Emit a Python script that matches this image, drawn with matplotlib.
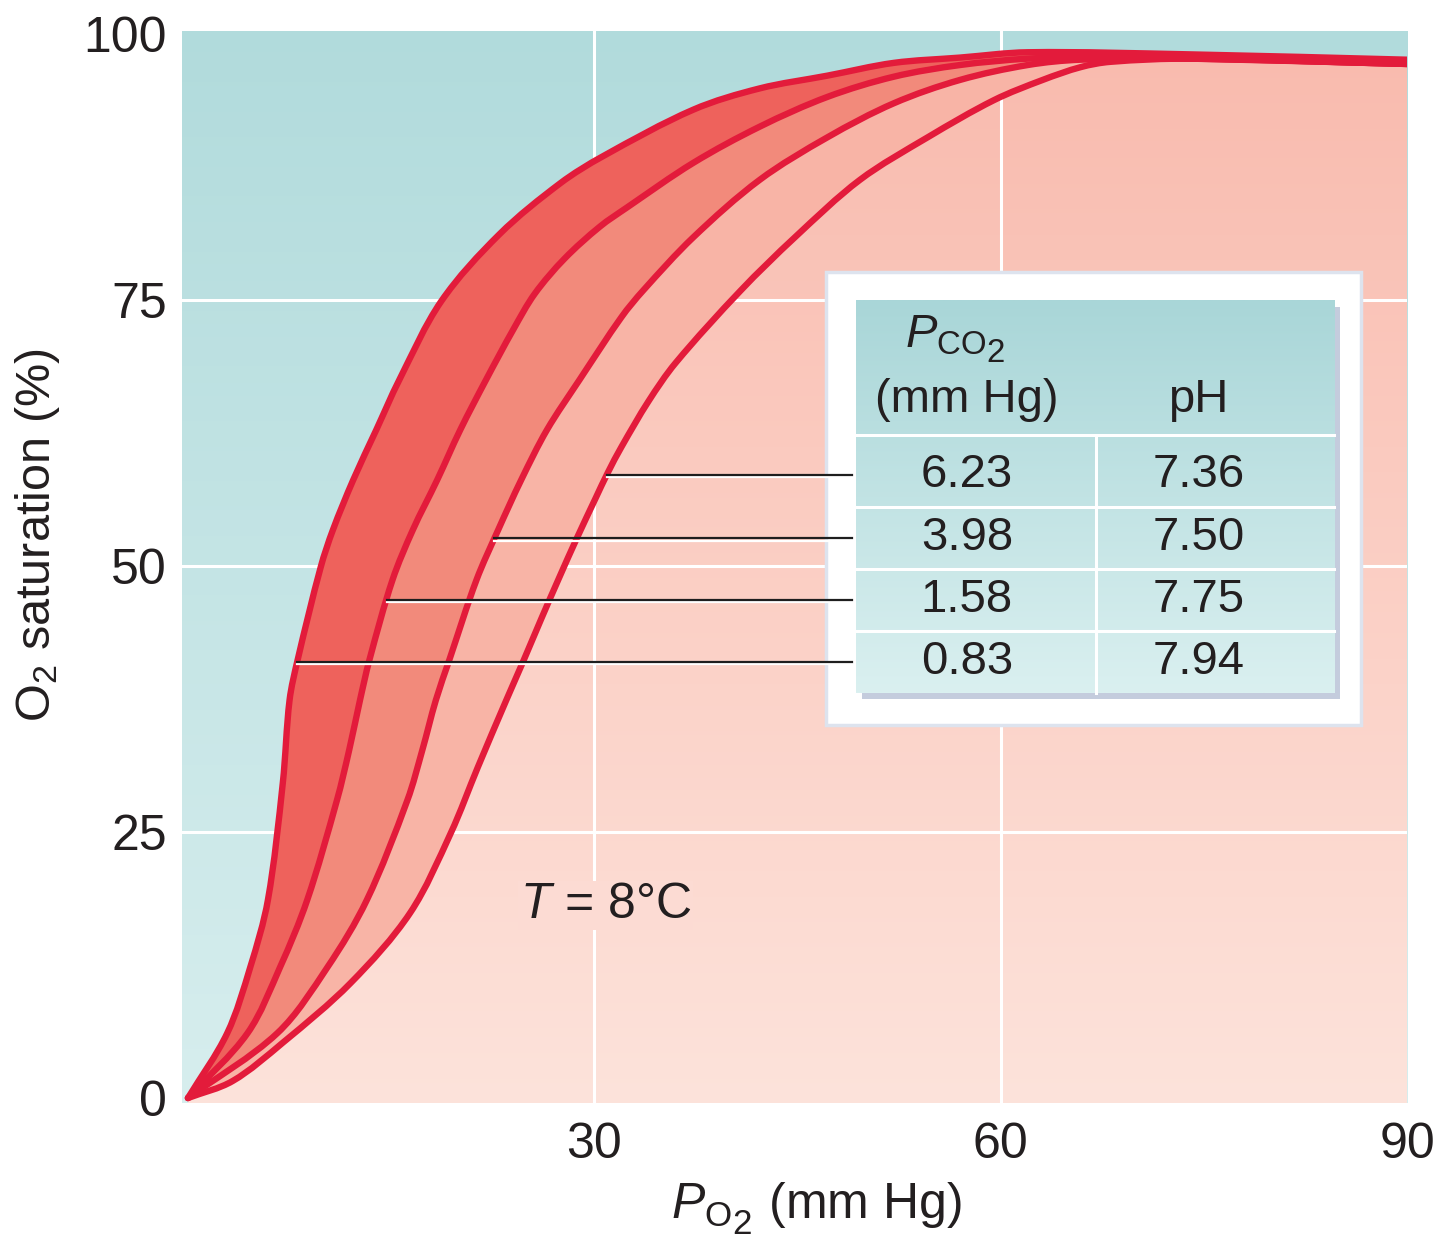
import numpy as np
import matplotlib
matplotlib.use('Agg')
import matplotlib.pyplot as plt
import matplotlib.patheffects as pe
import matplotlib._mathtext as mtext
from matplotlib.colors import LinearSegmentedColormap
from matplotlib.path import Path
from matplotlib.patches import PathPatch, Rectangle

plt.rcParams['font.family'] = ['Liberation Sans', 'DejaVu Sans']
plt.rcParams['mathtext.fontset'] = 'custom'
plt.rcParams['mathtext.rm'] = 'Liberation Sans'
plt.rcParams['mathtext.it'] = 'Liberation Sans:italic'
# nested subscripts (the "2" in P_O2) keep the size of the first subscript
mtext.NUM_SIZE_LEVELS = 2

# dissociation curves (PO2 in mm Hg, saturation in %)
po2_794 = [0.0, 2.9, 4.6, 5.9, 7.0, 7.5, 8.1, 9.8, 10.7, 12.2, 13.9, 15.6, 18.7, 23.0, 27.5, 30.6,
           37.3, 42.2, 47.2, 52.1, 57.0, 62.0, 74.0, 90.0]
sat_794 = [0.0, 6.1, 12.3, 18.6, 29.6, 37.4, 41.2, 49.9, 53.4, 58.1, 62.8, 67.5, 74.9, 81.2, 86.0, 88.5,
           92.9, 94.9, 96.1, 97.3, 97.8, 98.3, 98.1, 97.6]

po2_775 = [0.0, 4.4, 6.8, 8.8, 11.0, 11.9, 12.7, 13.4, 15.1, 16.6, 18.4, 20.1, 22.0, 24.0, 25.6,
           27.8, 30.4, 32.4, 37.3, 42.2, 47.2, 52.1, 57.0, 62.0, 65.9, 74.0, 90.0]
sat_775 = [0.0, 6.1, 12.3, 18.6, 28.0, 32.7, 37.4, 41.2, 48.7, 53.4, 58.1, 62.8, 67.5, 72.2, 75.6,
           78.9, 81.9, 83.7, 87.9, 91.3, 94.1, 96.0, 97.1, 97.7, 97.8, 97.7, 97.2]

po2_750 = [0.0, 6.6, 10.3, 13.2, 16.2, 17.3, 18.3, 19.3, 21.3, 22.9, 24.6, 26.5, 28.9, 32.0, 33.6,
           37.3, 42.2, 47.2, 52.1, 57.0, 62.0, 65.9, 74.0, 90.0]
sat_750 = [0.0, 6.1, 12.3, 18.6, 28.0, 32.7, 37.4, 41.2, 48.7, 53.4, 58.1, 62.8, 67.5, 73.4, 75.9,
           80.9, 86.3, 90.3, 93.5, 95.7, 97.1, 97.6, 97.7, 97.2]

po2_736 = [0.0, 3.3, 7.0, 12.0, 16.4, 19.4, 21.4, 23.5, 24.8, 26.1, 27.4, 28.7, 30.1, 31.0,
           32.0, 34.0, 36.0, 40.8, 44.8, 49.6, 54.6, 59.5, 63.1, 65.9, 68.1, 74.0, 90.0]
sat_736 = [0.0, 1.6, 5.2, 10.8, 17.4, 24.9, 31.1, 37.4, 41.2, 45.1, 48.9, 52.6, 56.4, 58.8,
           61.2, 65.5, 69.1, 75.9, 80.9, 86.3, 90.3, 93.8, 95.7, 96.9, 97.4, 97.7, 97.2]

# inset table, top row to bottom row
pco2_vals = ['6.23', '3.98', '1.58', '0.83']
ph_vals = ['7.36', '7.50', '7.75', '7.94']

x_ticks = [30, 60, 90]
y_ticks = [0, 25, 50, 75, 100]

red = '#e31b3b'
band_colors = ['#ee625c', '#f28a7b', '#f8b4a6']

curves = [(po2_794, sat_794), (po2_775, sat_775), (po2_750, sat_750), (po2_736, sat_736)]
# table rows belong to the curves from right to left
row_curves = [curves[3], curves[2], curves[1], curves[0]]
row_y = [58.6, 52.6, 46.8, 41.0]

SX, SY = 13.54, 10.64  # approx. pixels per data unit, only used for chord lengths


def smooth(x, y):
    # cubic bezier through the read points (chord-length catmull-rom tangents)
    p = np.c_[x, y].astype(float)
    d = np.hypot(np.diff(p[:, 0]) * SX, np.diff(p[:, 1]) * SY)
    t = np.r_[0, np.cumsum(d)]
    m = np.zeros_like(p)
    m[0] = (p[1] - p[0]) / (t[1] - t[0])
    m[-1] = (p[-1] - p[-2]) / (t[-1] - t[-2])
    m[1:-1] = (p[2:] - p[:-2]) / (t[2:] - t[:-2])[:, None]
    verts, codes = [p[0]], [Path.MOVETO]
    for i in range(len(p) - 1):
        h = t[i + 1] - t[i]
        verts += [p[i] + m[i] * h / 3, p[i + 1] - m[i + 1] * h / 3, p[i + 1]]
        codes += [Path.CURVE4] * 3
    return verts, codes


fig = plt.figure(figsize=(14.41, 12.54), dpi=100)
ax = fig.add_axes([0.1263, 0.1204, 0.8502, 0.8549])

grad = np.linspace(0, 1, 256).reshape(-1, 1)

# teal background
teal = LinearSegmentedColormap.from_list('teal', ['#d7eeee', '#b1dbdc'])
ax.imshow(grad, extent=[-1, 91, -1, 101], origin='lower', aspect='auto', cmap=teal, zorder=0)

# pink area under the right-most curve
pink = LinearSegmentedColormap.from_list('pink', ['#fde3db', '#f9baad'])
im = ax.imshow(grad, extent=[-1, 91, -1, 101], origin='lower', aspect='auto', cmap=pink, zorder=0.3)
v, c = smooth(*curves[3])
v = v + [(91, v[-1][1]), (91, -1), (0, -1), (0, 0)]
c = c + [Path.LINETO, Path.LINETO, Path.LINETO, Path.CLOSEPOLY]
im.set_clip_path(PathPatch(Path(v, c), transform=ax.transData))

# white grid
for gx in [30, 60]:
    ax.axvline(gx, color='white', lw=2.2, zorder=1.5)
for gy in [25, 50, 75]:
    ax.axhline(gy, color='white', lw=2.2, zorder=1.5)

# bands between neighbouring curves
for i in range(3):
    va, ca = smooth(*curves[i])
    xb, yb = curves[i + 1]
    vb, cb = smooth(xb[::-1], yb[::-1])
    cb = [Path.LINETO] + cb[1:]
    path = Path(va + vb + [(0, 0)], ca + cb + [Path.CLOSEPOLY])
    ax.add_patch(PathPatch(path, fc=band_colors[i], ec='none', lw=0, zorder=2))

for x, y in curves[::-1]:
    v, c = smooth(x, y)
    ax.add_patch(PathPatch(Path(v, c), fill=False, ec=red, lw=4.6, zorder=3,
                           capstyle='round', joinstyle='round'))

# table frame
ax.add_patch(Rectangle((47.1, 35.1), 39.5, 42.5, fc='white', ec='#dde3ee', lw=2.5, zorder=5))
ax.add_patch(Rectangle((49.75, 37.5), 35.3, 36.9, fc='#c4ccdd', ec='none', zorder=5.5))
tab = LinearSegmentedColormap.from_list('tab', ['#daf0f0', '#a9d6d8'])
ax.imshow(grad, extent=[49.3, 84.6, 38.1, 75.0], origin='lower', aspect='auto', cmap=tab, zorder=6)

head_y = row_y[0] + 3.7
ax.plot([49.3, 84.6], [head_y, head_y], color='white', lw=2.2, zorder=7)
for a, b in zip(row_y[:-1], row_y[1:]):
    ax.plot([49.3, 84.6], [(a + b) / 2] * 2, color='white', lw=2.2, zorder=7)
ax.plot([67.0, 67.0], [38.1, head_y], color='white', lw=2.2, zorder=7)

tc = '#231f20'
ax.text(56.6, 71.2, r'$P_{\mathrm{CO}_2}$', ha='center', va='center', fontsize=34, color=tc, zorder=8)
ax.text(57.5, 65.6, '(mm Hg)', ha='center', va='center', fontsize=34, color=tc, zorder=8)
ax.text(74.6, 65.6, 'pH', ha='center', va='center', fontsize=34, color=tc, zorder=8)
for i in range(4):
    ax.text(57.5, row_y[i], pco2_vals[i], ha='center', va='center', fontsize=34, color=tc, zorder=8)
    ax.text(74.6, row_y[i], ph_vals[i], ha='center', va='center', fontsize=34, color=tc, zorder=8)

# leader lines from each curve to its table row
for (x, y), ry in zip(row_curves, row_y):
    k = int(np.argmax(y))
    x0 = np.interp(ry, y[:k], x[:k])
    ax.plot([x0, 49.0], [ry, ry], color='#1e1e1e', lw=1.6, zorder=5.8,
            path_effects=[pe.SimpleLineShadow(offset=(0, -1.6), shadow_color='white', alpha=1.0),
                          pe.Normal()])

ax.text(24.5, 18.1, r'$T$ = 8°C', ha='left', va='center', fontsize=36, color=tc, zorder=4,
        bbox=dict(fc=pink(19 / 102), ec='none', pad=1))

ax.set_xlim(-0.44, 90)
ax.set_ylim(-0.47, 100.3)
ax.set_xticks(x_ticks)
ax.set_yticks(y_ticks)
ax.tick_params(length=0, labelsize=36, colors=tc)
ax.tick_params(axis='x', pad=14)
ax.tick_params(axis='y', pad=11)
for s in ax.spines.values():
    s.set_visible(False)

ax.set_xlabel(r'$P_{\mathrm{O}_2}\,$ (mm Hg)', fontsize=36, color=tc)
ax.xaxis.set_label_coords(0.518, -0.072)
ax.set_ylabel(r'O$_2$ saturation (%)', fontsize=35, color=tc)
ax.yaxis.set_label_coords(-0.098, 0.53)

fig.savefig('out.png', dpi=100)
